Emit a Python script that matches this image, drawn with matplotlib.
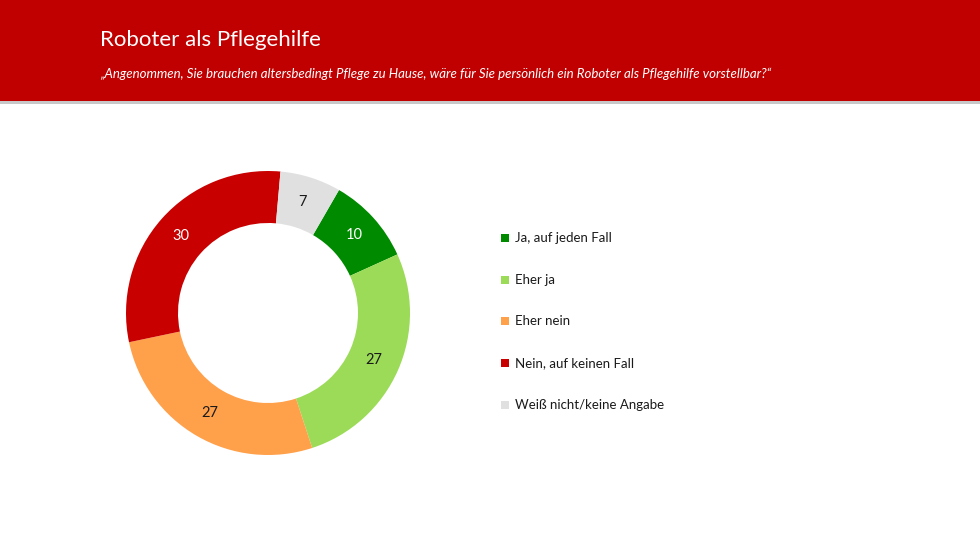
import matplotlib.pyplot as plt
from matplotlib.patches import Rectangle

# Antworten in Prozent
categories = ["Ja, auf jeden Fall", "Eher ja", "Eher nein",
              "Nein, auf keinen Fall", "Weiß nicht/keine Angabe"]
values = [10, 27, 27, 30, 7]
colors = ["#008A00", "#9BDB57", "#FFA04B", "#C80000", "#E0E0E0"]
label_colors = ["white", "#1A1A1A", "#1A1A1A", "white", "#1A1A1A"]

title = "Roboter als Pflegehilfe"
subtitle = ("\u201eAngenommen, Sie brauchen altersbedingt Pflege zu Hause, "
            "wäre für Sie persönlich ein Roboter als Pflegehilfe vorstellbar?\u201c")

W, H = 980, 551
plt.rcParams['font.family'] = ['Lato', 'DejaVu Sans']

fig = plt.figure(figsize=(W / 100, H / 100), dpi=100)

# Kopfbereich
fig.patches.append(Rectangle((0, 1 - 101 / H), 1, 101 / H, transform=fig.transFigure,
                             facecolor="#C00000", edgecolor="none", zorder=0))
fig.patches.append(Rectangle((0, 1 - 104 / H), 1, 3 / H, transform=fig.transFigure,
                             facecolor="#C8C8C8", edgecolor="none", zorder=0))
fig.text(100 / W, 1 - 40 / H, title, color="white", fontsize=16, va="center", ha="left")
fig.text(100 / W, 1 - 74 / H, subtitle, color="white", fontsize=9.5, style="italic",
         va="center", ha="left")

# Donut
cx, cy, r = 268, 313, 142
half = 150
ax = fig.add_axes([(cx - half) / W, (H - cy - half) / H, 2 * half / W, 2 * half / H])
wedges, texts, autotexts = ax.pie(
    values, colors=colors, startangle=60, counterclock=False,
    radius=1, wedgeprops=dict(width=52 / r, edgecolor="none"),
    autopct=lambda p: "", pctdistance=1 - 26 / r)
for t, v, c in zip(autotexts, values, label_colors):
    t.set_text(str(v))
    t.set_color(c)
    t.set_fontsize(10.5)
lim = half / r
ax.set_xlim(-lim, lim)
ax.set_ylim(-lim, lim)
ax.set_aspect("equal")
ax.axis("off")

# Legende
leg_x = 505
leg_y = [238, 280, 321, 363, 405]
for name, col, y in zip(categories, colors, leg_y):
    fig.patches.append(Rectangle(((leg_x - 4) / W, (H - y - 4) / H), 8 / W, 8 / H,
                                 transform=fig.transFigure, facecolor=col,
                                 edgecolor="none"))
    fig.text((leg_x + 10) / W, (H - y) / H, name, fontsize=9.5, color="#1A1A1A",
             va="center", ha="left")

fig.savefig("out.png", dpi=100, facecolor="white")
